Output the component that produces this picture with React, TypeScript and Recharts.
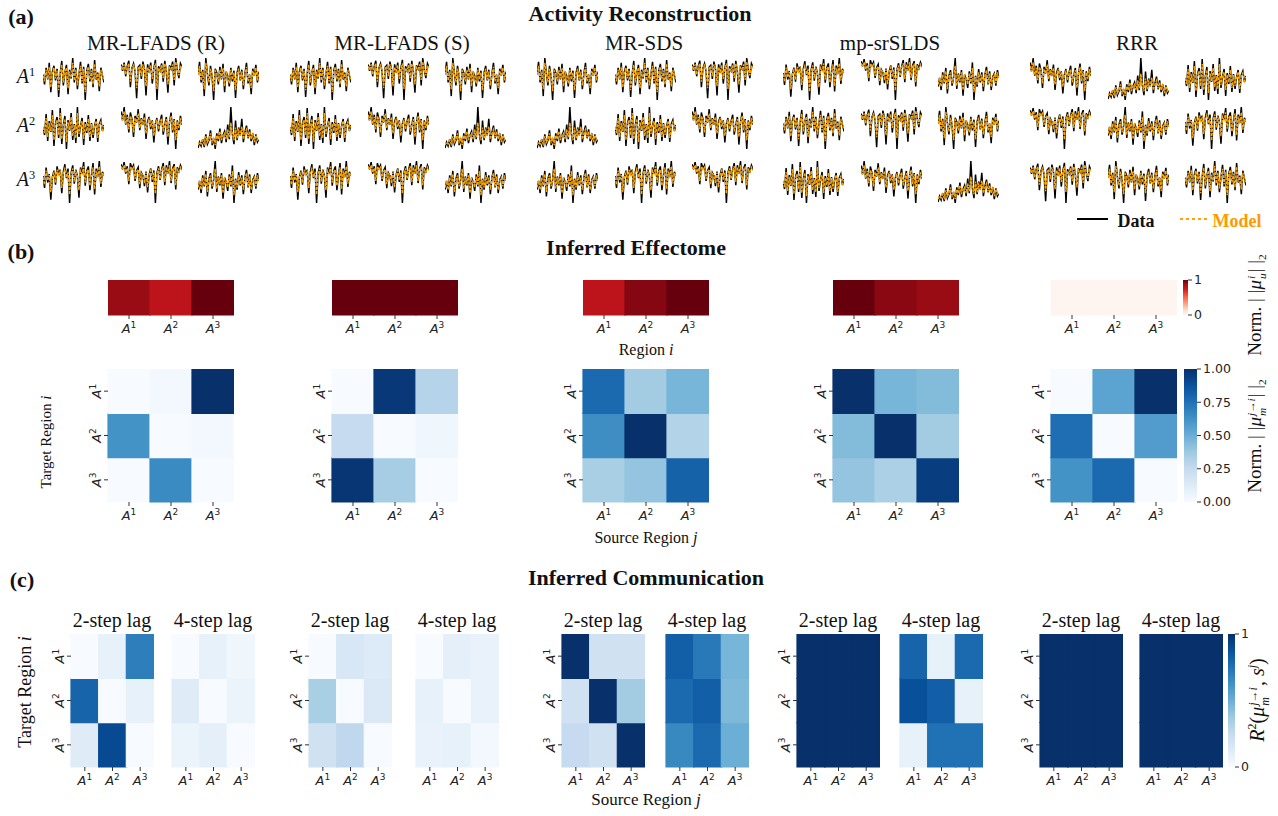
import React from "react";
import { LineChart, Line, BarChart, Bar, Cell, XAxis, YAxis } from "recharts";

const SERIF = '"Liberation Serif", "Times New Roman", serif';
const SANS = '"DejaVu Sans", sans-serif';

const MODELS = ["MR-LFADS (R)", "MR-LFADS (S)", "MR-SDS", "mp-srSLDS", "RRR"];
const REGIONS = ["1", "2", "3"];
const LAGS = ["2-step lag", "4-step lag"];

const D1 = [0.2,-0.8,0.9,-0.3,1.4,-1.6,0.5,1.1,-0.4,0.8,-2.1,0.3,1.6,-0.9,0.4,1.2,-1.8,0.7,-0.2,1.9,-0.6,0.9,-1.3,0.2,1.5,-0.7,1.0,-2.4,0.6,1.3,-0.5,0.8,-1.1,1.7,-0.3,0.4,-1.5,0.9,0.1,-0.6];
const D2 = [1.1,0.4,1.3,-0.2,0.9,1.5,-1.4,0.7,1.2,0.3,-2.6,0.8,1.0,-0.5,1.4,0.6,-2.3,1.1,0.2,1.3,-1.0,0.7,1.6,-2.8,0.9,0.4,1.2,-0.8,1.5,0.3,-2.0,1.0,0.6,1.4,-1.2,1.8,0.5,-0.4,1.2,0.8];
const D3 = [0.3,1.6,-0.5,0.8,-1.9,2.0,0.4,-0.8,1.2,0.1,-2.3,0.9,0.5,-0.7,1.1,-0.2,1.4,-1.5,0.6,0.2,-0.9,1.0,-0.4,0.7,-2.1,0.5,1.2,-0.3,0.8,-1.2,0.4,1.5,-0.6,0.3,-1.7,0.9,0.2,1.3,-0.5,0.6];
const D4 = [0.2,-0.6,1.5,-1.2,0.8,-0.3,1.9,-1.7,0.6,1.2,-0.9,2.1,-1.5,0.4,1.3,-2.0,0.9,-0.2,1.6,-1.1,0.5,-1.4,2.2,-0.8,0.3,1.1,-1.6,0.7,-0.4,1.4,-1.2,0.6,-0.9,0.3,1.0,-1.3,0.5,0.9,-0.2,0.4];
const D5 = [1.4,0.6,1.8,0.2,1.1,-0.5,1.3,0.7,-0.9,1.0,0.4,1.6,-0.3,0.8,0.2,1.2,-1.1,0.5,0.9,-0.2,0.6,-1.4,0.3,0.8,-0.4,0.5,1.1,-0.7,0.2,0.9,-1.6,0.4,1.3,-0.5,0.7,-2.0,0.6,-0.3,1.0,0.2];
const D6 = [-1.2,-0.6,-1.0,-0.3,-1.1,0.2,-0.8,-0.4,0.6,-0.9,-0.2,-1.3,0.3,-0.5,0.8,-0.7,0.1,0.5,-0.6,1.2,-0.3,3.0,0.2,-0.8,1.6,-0.4,0.9,0.1,1.8,-0.6,0.4,1.1,-0.2,0.7,-0.5,0.3,-0.9,0.2,-0.6,-0.3];
const D7 = [0.4,-0.7,1.2,-0.2,0.6,-1.8,0.3,0.9,-0.4,1.3,0.5,1.0,-1.2,0.8,1.5,0.2,1.1,-2.1,0.7,1.4,-0.3,1.0,0.4,-1.6,1.2,0.6,1.7,-0.5,0.9,1.3,-0.9,0.5,1.6,-1.3,1.1,0.3,1.8,-0.6,0.8,0.4];
const D8 = [1.3,0.8,1.5,0.4,1.1,-0.6,1.4,0.9,1.2,-0.3,0.7,1.0,-1.0,0.5,0.2,-0.8,0.6,-1.4,0.3,0.9,-0.4,0.7,-2.4,0.5,1.1,-0.2,0.8,1.4,-0.7,1.2,0.4,1.6,-0.5,0.9,1.3,-1.1,1.0,0.6,1.2,0.8];
const D9 = [-0.6,0.2,-0.9,0.7,-0.3,1.1,-1.2,0.4,0.9,-0.5,0.3,2.0,-0.8,0.6,-0.2,0.9,-1.4,0.5,0.1,-0.7,0.8,-0.3,1.6,-1.8,0.4,-0.6,1.0,-0.2,0.7,-1.0,0.5,1.2,-0.4,0.8,-0.9,0.3,0.6,-0.5,0.9,0.2];

const F1 = [0.1,-0.5,0.7,-0.2,1.0,-1.1,0.4,0.9,-0.2,0.6,-1.4,0.3,1.2,-0.6,0.4,0.9,-1.2,0.5,-0.1,1.4,-0.4,0.7,-0.9,0.2,1.1,-0.5,0.8,-1.6,0.5,1.0,-0.3,0.6,-0.8,1.3,-0.2,0.3,-1.0,0.7,0.1,-0.4];
const F2 = [0.9,0.5,1.1,0.0,0.8,1.2,-0.8,0.6,1.0,0.4,-1.5,0.6,0.9,-0.2,1.1,0.6,-1.3,0.8,0.3,1.0,-0.5,0.6,1.2,-1.6,0.7,0.4,1.0,-0.4,1.2,0.4,-1.1,0.8,0.6,1.1,-0.6,1.4,0.5,-0.1,1.0,0.7];
const F3 = [0.3,1.2,-0.3,0.6,-1.2,1.5,0.4,-0.5,0.9,0.2,-1.4,0.7,0.4,-0.4,0.8,-0.1,1.0,-0.9,0.5,0.2,-0.6,0.8,-0.2,0.5,-1.3,0.4,0.9,-0.2,0.6,-0.8,0.3,1.1,-0.4,0.3,-1.1,0.7,0.2,1.0,-0.3,0.5];
const F4 = [0.2,-0.4,1.1,-0.8,0.6,-0.2,1.4,-1.1,0.5,0.9,-0.6,1.6,-1.0,0.3,1.0,-1.3,0.7,-0.1,1.2,-0.7,0.4,-0.9,1.6,-0.5,0.3,0.8,-1.0,0.5,-0.2,1.0,-0.8,0.5,-0.6,0.3,0.8,-0.9,0.4,0.7,-0.1,0.3];
const F5 = [1.1,0.6,1.4,0.3,0.9,-0.2,1.0,0.6,-0.5,0.8,0.4,1.2,-0.1,0.7,0.3,0.9,-0.6,0.4,0.7,0.0,0.5,-0.8,0.3,0.6,-0.2,0.4,0.8,-0.4,0.2,0.7,-0.9,0.4,1.0,-0.3,0.6,-1.2,0.5,-0.1,0.8,0.3];
const F6 = [-0.9,-0.6,-0.8,-0.4,-0.8,0.0,-0.6,-0.3,0.3,-0.6,-0.2,-0.9,0.1,-0.3,0.5,-0.4,0.1,0.3,-0.3,0.7,-0.1,1.4,0.2,-0.4,0.9,-0.2,0.6,0.1,1.0,-0.3,0.3,0.7,-0.1,0.5,-0.3,0.2,-0.6,0.1,-0.4,-0.3];
const F7 = [0.3,-0.4,0.9,0.0,0.5,-1.1,0.3,0.7,-0.2,1.0,0.5,0.8,-0.7,0.7,1.1,0.3,0.8,-1.3,0.6,1.1,-0.1,0.8,0.4,-0.9,0.9,0.6,1.3,-0.2,0.8,1.0,-0.5,0.5,1.2,-0.8,0.9,0.3,1.3,-0.3,0.7,0.4];
const F8 = [1.1,0.8,1.2,0.5,0.9,-0.3,1.1,0.8,1.0,-0.1,0.6,0.8,-0.6,0.4,0.2,-0.5,0.5,-0.9,0.3,0.7,-0.2,0.5,-1.5,0.4,0.9,-0.1,0.7,1.1,-0.4,1.0,0.4,1.2,-0.3,0.8,1.0,-0.7,0.8,0.6,1.0,0.7];
const F9 = [-0.4,0.2,-0.6,0.5,-0.2,0.8,-0.8,0.3,0.7,-0.3,0.3,1.3,-0.5,0.5,-0.1,0.7,-0.9,0.4,0.1,-0.4,0.6,-0.2,1.1,-1.1,0.3,-0.4,0.7,-0.1,0.5,-0.6,0.4,0.9,-0.3,0.6,-0.6,0.2,0.5,-0.3,0.7,0.2];

const TRACES = [D1, D2, D3, D4, D5, D6, D7, D8, D9];
const FITS = [F1, F2, F3, F4, F5, F6, F7, F8, F9];
// which trace sits in each of the 9 small panels, per model
const TRACE_ORDER = [
  [0, 1, 2, 3, 4, 5, 6, 7, 8],
  [0, 1, 2, 3, 4, 5, 6, 7, 8],
  [2, 0, 1, 5, 3, 4, 8, 6, 7],
  [6, 7, 8, 0, 1, 2, 3, 4, 5],
  [4, 5, 3, 7, 8, 6, 1, 2, 0],
];

// (b) input effect norms, one per region
const U_LFADS_R = [0.9, 0.8, 1.0];
const U_LFADS_S = [1.0, 1.0, 1.0];
const U_MRSDS = [0.8, 0.94, 1.0];
const U_SRSLDS = [1.0, 0.93, 0.9];
const U_RRR = [0.0, 0.0, 0.0];

// (b) message norms, rows = target i, cols = source j
const M_LFADS_R = [[0.0, 0.02, 1.0], [0.62, 0.0, 0.02], [0.0, 0.65, 0.0]];
const M_LFADS_S = [[0.0, 0.97, 0.3], [0.25, 0.0, 0.04], [0.98, 0.35, 0.0]];
const M_MRSDS = [[0.78, 0.36, 0.47], [0.64, 1.0, 0.31], [0.34, 0.4, 0.81]];
const M_SRSLDS = [[1.0, 0.47, 0.44], [0.44, 1.0, 0.36], [0.4, 0.33, 0.95]];
const M_RRR = [[0.0, 0.55, 1.0], [0.76, 0.0, 0.58], [0.62, 0.78, 0.0]];

// (c) R^2 of communication vs. lagged source, 2-step and 4-step
const C2_LFADS_R = [[0.0, 0.08, 0.7], [0.8, 0.0, 0.08], [0.12, 0.9, 0.0]];
const C4_LFADS_R = [[0.0, 0.08, 0.04], [0.12, 0.0, 0.06], [0.06, 0.09, 0.0]];
const C2_LFADS_S = [[0.0, 0.16, 0.13], [0.34, 0.0, 0.14], [0.2, 0.27, 0.0]];
const C4_LFADS_S = [[0.0, 0.09, 0.07], [0.08, 0.0, 0.07], [0.07, 0.08, 0.02]];
const C2_MRSDS = [[1.0, 0.2, 0.2], [0.2, 1.0, 0.36], [0.25, 0.2, 1.0]];
const C4_MRSDS = [[0.82, 0.72, 0.47], [0.78, 0.82, 0.45], [0.66, 0.78, 0.5]];
const C2_SRSLDS = [[1, 1, 1], [1, 1, 1], [1, 1, 1]];
const C4_SRSLDS = [[0.8, 0.08, 0.78], [0.88, 0.82, 0.08], [0.08, 0.75, 0.75]];
const C2_RRR = [[1, 1, 1], [1, 1, 1], [1, 1, 1]];
const C4_RRR = [[1, 1, 1], [1, 1, 1], [1, 1, 1]];

const U_ALL = [U_LFADS_R, U_LFADS_S, U_MRSDS, U_SRSLDS, U_RRR];
const M_ALL = [M_LFADS_R, M_LFADS_S, M_MRSDS, M_SRSLDS, M_RRR];
const C_ALL = [
  [C2_LFADS_R, C4_LFADS_R],
  [C2_LFADS_S, C4_LFADS_S],
  [C2_MRSDS, C4_MRSDS],
  [C2_SRSLDS, C4_SRSLDS],
  [C2_RRR, C4_RRR],
];

const BLUES = ["#f7fbff", "#deebf7", "#c6dbef", "#9ecae1", "#6baed6", "#4292c6", "#2171b5", "#08519c", "#08306b"];
const REDS = ["#fff5f0", "#fee0d2", "#fcbba1", "#fc9272", "#fb6a4a", "#ef3b2c", "#cb181d", "#a50f15", "#67000d"];

// layout
const A_GROUP_X = [43, 290, 537, 783, 1030];
const A_COL_DX = [0, 78, 155];
const A_ROW_Y = [57, 106, 160];
const A_TITLE_X = [156, 402, 644, 890, 1137];
const MINI_W = 61;
const MINI_H = 44;
const B_X = [108, 332, 583, 833, 1051];
const C_X = [[71, 172], [309, 416], [562, 666], [797, 900], [1040, 1140]];

function hex(c: string) {
  return [1, 3, 5].map((i) => parseInt(c.slice(i, i + 2), 16));
}

function cmap(stops: string[], v: number) {
  const t = Math.max(0, Math.min(1, v)) * (stops.length - 1);
  const i = Math.min(stops.length - 2, Math.floor(t));
  const f = t - i;
  const a = hex(stops[i]);
  const b = hex(stops[i + 1]);
  const c = a.map((x, k) => Math.round(x + (b[k] - x) * f));
  return `rgb(${c[0]},${c[1]},${c[2]})`;
}

function Txt({ x, y, size, bold, rotate, color, family, children }: any) {
  return (
    <div
      style={{
        position: "absolute",
        left: x,
        top: y,
        transform: `translate(-50%,-50%)${rotate ? " rotate(-90deg)" : ""}`,
        fontSize: size,
        fontWeight: bold ? 700 : 400,
        fontFamily: family || SERIF,
        whiteSpace: "nowrap",
        lineHeight: 1,
        color: color || "#111",
      }}
    >
      {children}
    </div>
  );
}

// stacked superscript / subscript pair, e.g. mu^{j->i}_m
function Stack({ top, bot }: { top: string; bot: string }) {
  return (
    <span
      style={{
        display: "inline-flex",
        flexDirection: "column",
        fontSize: "0.6em",
        lineHeight: 1,
        verticalAlign: "0.55em",
        margin: "0 1px",
        fontStyle: "italic",
      }}
    >
      <span>{top}</span>
      <span>{bot}</span>
    </span>
  );
}

const XTick = (props: any) => {
  const { x, y, payload } = props;
  return (
    <text x={x} y={y + 12} textAnchor="middle" fontFamily={SANS} fontSize={13} fill="#222">
      <tspan fontStyle="italic">A</tspan>
      <tspan fontSize={9} dy={-5}>{payload.value}</tspan>
    </text>
  );
};

const YTick = (props: any) => {
  const { x, y, payload } = props;
  const n = Math.round(3.5 - payload.value);
  return (
    <g transform={`translate(${x},${y}) rotate(-90)`}>
      <text x={0} y={-1} textAnchor="middle" fontFamily={SANS} fontSize={13} fill="#222">
        <tspan fontStyle="italic">A</tspan>
        <tspan fontSize={9} dy={-5}>{n}</tspan>
      </text>
    </g>
  );
};

const NoTick = () => <g />;

function Mini({ x, y, data, fit }: { x: number; y: number; data: number[]; fit: number[] }) {
  const rows = data.map((d, i) => ({ t: i, d, m: fit[i] }));
  return (
    <div style={{ position: "absolute", left: x, top: y }}>
      <LineChart width={MINI_W} height={MINI_H} data={rows} margin={{ top: 1, right: 0, bottom: 1, left: 0 }}>
        <XAxis dataKey="t" type="number" domain={["dataMin", "dataMax"]} hide />
        <YAxis hide domain={["dataMin", "dataMax"]} />
        <Line dataKey="d" stroke="#000" strokeWidth={1.5} dot={false} isAnimationActive={false} />
        <Line dataKey="m" stroke="#ffa500" strokeWidth={1.4} strokeDasharray="3 1" dot={false} isAnimationActive={false} />
      </LineChart>
    </div>
  );
}

function Heatmap({ x, y, w, h, matrix, yLabels }: any) {
  const YW = 24;
  const XH = 26;
  const data = REGIONS.map((r) => ({ col: r, r1: 1, r2: 1, r3: 1 }));
  // stack bottom to top: A3, A2, A1
  const keys = ["r3", "r2", "r1"];
  return (
    <div style={{ position: "absolute", left: x - YW, top: y }}>
      <BarChart width={w + YW} height={h + XH} data={data} margin={{ top: 0, right: 0, bottom: 0, left: 0 }} barCategoryGap={0} barGap={0}>
        <XAxis dataKey="col" interval={0} height={XH} axisLine={false} tickSize={4} tickLine={{ stroke: "#333" }} tick={<XTick />} />
        <YAxis
          type="number"
          domain={[0, 3]}
          ticks={[0.5, 1.5, 2.5]}
          width={YW}
          axisLine={false}
          tickSize={4}
          tickLine={yLabels ? { stroke: "#333" } : false}
          tick={yLabels ? <YTick /> : <NoTick />}
        />
        {keys.map((k) => {
          const row = Number(k.slice(1)) - 1;
          return (
            <Bar key={k} dataKey={k} stackId="s" isAnimationActive={false}>
              {REGIONS.map((_, j) => {
                const c = cmap(BLUES, matrix[row][j]);
                return <Cell key={j} fill={c} stroke={c} strokeWidth={1.2} />;
              })}
            </Bar>
          );
        })}
      </BarChart>
    </div>
  );
}

function Strip({ x, y, w, h, values }: any) {
  const XH = 26;
  const data = REGIONS.map((r) => ({ col: r, v: 1 }));
  return (
    <div style={{ position: "absolute", left: x, top: y }}>
      <BarChart width={w} height={h + XH} data={data} margin={{ top: 0, right: 0, bottom: 0, left: 0 }} barCategoryGap={0} barGap={0}>
        <XAxis dataKey="col" interval={0} height={XH} axisLine={false} tickSize={4} tickLine={{ stroke: "#333" }} tick={<XTick />} />
        <YAxis hide domain={[0, 1]} />
        <Bar dataKey="v" isAnimationActive={false}>
          {values.map((v: number, j: number) => {
            const c = cmap(REDS, v);
            return <Cell key={j} fill={c} stroke={c} strokeWidth={1.2} />;
          })}
        </Bar>
      </BarChart>
    </div>
  );
}

function Colorbar({ x, y, w, h, stops, ticks, fmt, id }: any) {
  const data = [{ k: "c", v: 1 }];
  return (
    <div style={{ position: "absolute", left: x, top: y - 8 }}>
      <BarChart width={w + 48} height={h + 16} data={data} margin={{ top: 8, right: 0, bottom: 8, left: 0 }} barCategoryGap={0}>
        <defs>
          <linearGradient id={id} x1="0" y1="1" x2="0" y2="0">
            {stops.map((c: string, i: number) => (
              <stop key={i} offset={i / (stops.length - 1)} stopColor={c} />
            ))}
          </linearGradient>
        </defs>
        <XAxis dataKey="k" hide />
        <YAxis
          orientation="right"
          type="number"
          domain={[0, 1]}
          ticks={ticks}
          width={48}
          axisLine={false}
          tickSize={4}
          tickLine={{ stroke: "#333" }}
          tickFormatter={fmt}
          tick={{ fontFamily: SANS, fontSize: 12.5, fill: "#222" }}
        />
        <Bar dataKey="v" fill={`url(#${id})`} isAnimationActive={false} />
      </BarChart>
    </div>
  );
}

export default function App() {
  return (
    <div style={{ position: "absolute", left: 0, top: 0, width: 1278, height: 816, background: "#fff", overflow: "hidden" }}>
      {/* (a) */}
      <Txt x={21} y={17} size={22} bold>(a)</Txt>
      <Txt x={640} y={14} size={22} bold>Activity Reconstruction</Txt>
      {MODELS.map((m, g) => (
        <Txt key={m} x={A_TITLE_X[g]} y={43} size={21}>{m}</Txt>
      ))}
      {REGIONS.map((r, i) => (
        <Txt key={r} x={26} y={A_ROW_Y[i] + 19} size={20}>
          <i>A</i>
          <sup style={{ fontSize: "0.62em" }}>{r}</sup>
        </Txt>
      ))}
      {MODELS.map((m, g) =>
        TRACE_ORDER[g].map((ti, p) => (
          <Mini
            key={`${m}-${p}`}
            x={A_GROUP_X[g] + A_COL_DX[p % 3]}
            y={A_ROW_Y[Math.floor(p / 3)]}
            data={TRACES[ti]}
            fit={FITS[ti]}
          />
        ))
      )}
      <svg style={{ position: "absolute", left: 1070, top: 208 }} width={200} height={26}>
        <line x1={7} y1={11} x2={38} y2={11} stroke="#000" strokeWidth={2} />
        <line x1={110} y1={11} x2={138} y2={11} stroke="#ffa500" strokeWidth={2} strokeDasharray="3 3" />
      </svg>
      <Txt x={1136} y={221} size={18} bold>Data</Txt>
      <Txt x={1237} y={221} size={18} bold color="#ff9900">Model</Txt>

      {/* (b) */}
      <Txt x={21} y={252} size={22} bold>(b)</Txt>
      <Txt x={636} y={248} size={22} bold>Inferred Effectome</Txt>
      {U_ALL.map((u, g) => (
        <Strip key={g} x={B_X[g]} y={280} w={126} h={35} values={u} />
      ))}
      {M_ALL.map((mm, g) => (
        <Heatmap key={g} x={B_X[g]} y={369} w={126} h={133} matrix={mm} yLabels />
      ))}
      <Colorbar x={1183} y={280} w={5} h={35} stops={REDS} ticks={[0, 1]} fmt={(v: number) => String(v)} id="redsbar" />
      <Colorbar x={1184} y={369} w={13} h={133} stops={BLUES} ticks={[0, 0.25, 0.5, 0.75, 1]} fmt={(v: number) => v.toFixed(2)} id="bluesbar" />
      <Txt x={646} y={350} size={16}>Region <i>i</i></Txt>
      <Txt x={646} y={538} size={16}>Source Region <i>j</i></Txt>
      <Txt x={46} y={442} size={15} rotate>Target Region <i>i</i></Txt>
      <Txt x={1257} y={305} size={19} rotate>
        Norm. | |<i>μ</i><Stack top="i" bot="u" />| |<sub style={{ fontSize: "0.6em" }}>2</sub>
      </Txt>
      <Txt x={1257} y={436} size={19} rotate>
        Norm. | |<i>μ</i><Stack top="j→i" bot="m" />| |<sub style={{ fontSize: "0.6em" }}>2</sub>
      </Txt>

      {/* (c) */}
      <Txt x={22} y={580} size={22} bold>(c)</Txt>
      <Txt x={646} y={578} size={22} bold>Inferred Communication</Txt>
      {C_ALL.map((pair, g) =>
        pair.map((mm, l) => (
          <React.Fragment key={`${g}-${l}`}>
            <Txt x={C_X[g][l] + 41} y={620} size={20}>{LAGS[l]}</Txt>
            <Heatmap x={C_X[g][l]} y={634} w={83} h={133} matrix={mm} yLabels={l === 0} />
          </React.Fragment>
        ))
      )}
      <Colorbar x={1228} y={634} w={7} h={133} stops={BLUES} ticks={[0, 1]} fmt={(v: number) => String(v)} id="bluesbar2" />
      <Txt x={25} y={692} size={18} rotate>Target Region <i>i</i></Txt>
      <Txt x={646} y={799} size={17}>Source Region <i>j</i></Txt>
      <Txt x={1259} y={700} size={20} rotate>
        <i>R</i><sup style={{ fontSize: "0.6em" }}>2</sup>(<i>μ</i><Stack top="j→i" bot="m" />, <i>s</i><sup style={{ fontSize: "0.6em" }}><i>j</i></sup>)
      </Txt>
    </div>
  );
}
